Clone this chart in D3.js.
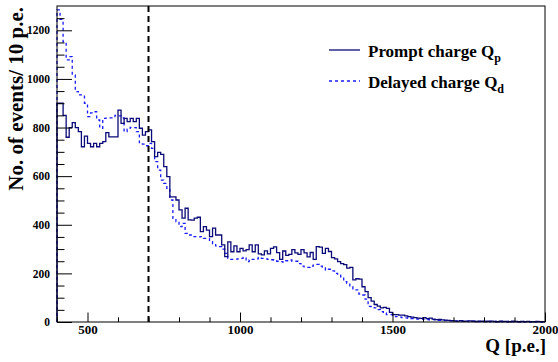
<!DOCTYPE html>
<html>
<head>
<meta charset="utf-8">
<script src="https://cdn.jsdelivr.net/npm/d3@7"></script>
<style>
  body { margin: 0; background: #fff; }
  text { font-family: "Liberation Serif", "Times New Roman", serif; font-weight: bold; }
</style>
</head>
<body>
<div id="chart"></div>
<script>
// histogram bins: 10 p.e. wide, starting at 400 p.e.
var binStart = 400, binWidth = 10;

// Prompt charge Q_p, counts per bin
var prompt = [
  900, 900, 850, 760, 800, 820, 800, 783, 721, 765,
  735, 721, 735, 721, 735, 742, 779, 762, 762, 762,
  872, 817, 838, 824, 838, 824, 838, 797, 769, 783,
  790, 742, 680, 698, 690, 639, 598, 515, 515, 502,
  461, 427, 468, 420, 419, 427, 431, 372, 392, 378,
  351, 386, 358, 358, 317, 269, 330, 289, 313, 289,
  303, 293, 298, 317, 289, 317, 280, 276, 293, 280,
  303, 309, 285, 258, 292, 274, 278, 298, 284, 278,
  298, 284, 268, 286, 258, 310, 308, 282, 303, 290,
  265, 260, 248, 240, 236, 222, 225, 173, 178, 176,
  145, 125, 100, 86, 72, 65, 58, 60, 56, 40,
  30, 30, 28, 28, 25, 22, 20, 18, 16, 15,
  18, 14, 16, 12, 10, 11, 9, 8, 7, 6,
  5, 4, 6, 3, 4, 5, 3, 2, 4, 3,
  2, 3, 4, 2, 1, 3, 2, 2, 1, 3,
  2, 1, 2, 1, 2, 1, 1, 2, 1, 1
];

// Delayed charge Q_d, counts per bin
var delayed = [
  1284, 1245, 1153, 1078, 1092, 1016, 948, 934, 934, 900,
  845, 860, 865, 831, 797, 838, 839, 840, 845, 850,
  848, 840, 783, 793, 801, 800, 783, 738, 732, 725,
  735, 714, 660, 625, 584, 570, 550, 502, 426, 413,
  392, 406, 365, 358, 351, 351, 350, 351, 344, 344,
  331, 321, 313, 310, 300, 282, 262, 258, 258, 260,
  262, 266, 248, 255, 258, 260, 266, 262, 260, 258,
  256, 254, 250, 248, 246, 252, 255, 250, 250, 240,
  230, 227, 225, 230, 234, 237, 230, 225, 214, 217,
  210, 200, 193, 186, 166, 159, 145, 132, 132, 115,
  111, 94, 64, 62, 58, 51, 43, 37, 30, 30,
  26, 22, 20, 18, 17, 15, 14, 13, 12, 11,
  12, 10, 9, 10, 8, 7, 7, 6, 5, 5,
  4, 3, 4, 3, 3, 2, 3, 2, 2, 3,
  2, 1, 2, 2, 1, 2, 1, 1, 2, 1,
  1, 1, 2, 1, 1, 0, 1, 1, 0, 1
];

var xMajor = [500, 1000, 1500, 2000];
var xMinor = [400, 600, 700, 800, 900, 1100, 1200, 1300, 1400, 1600, 1700, 1800, 1900];
var yMajor = [0, 200, 400, 600, 800, 1000, 1200];
var yMinor = [50, 100, 150, 250, 300, 350, 450, 500, 550, 650, 700, 750, 850, 900, 950, 1050, 1100, 1150, 1250];
var cutValue = 700;

const W = 558, H = 362;
const margin = { top: 6, right: 13, bottom: 40, left: 57 };

var svg = d3.select("#chart").append("svg")
  .attr("width", W).attr("height", H);

const x = d3.scaleLinear().domain([400, 2000]).range([margin.left, W - margin.right]);
const y = d3.scaleLinear().domain([0, 1300]).range([H - margin.bottom, margin.top]);

// step outline like a ROOT histogram
function stepPath(vals) {
  var pts = [[x(binStart), y(0)]];
  vals.forEach(function (v, i) {
    var lo = binStart + i * binWidth;
    pts.push([x(lo), y(v)]);
    pts.push([x(lo + binWidth), y(v)]);
  });
  pts.push([x(binStart + vals.length * binWidth), y(0)]);
  return d3.line()(pts);
}

var plot = svg.append("g");
plot.append("path")
  .attr("d", stepPath(delayed))
  .attr("fill", "none")
  .attr("stroke", "#1a1aff")
  .attr("stroke-width", 1.3)
  .attr("stroke-dasharray", "3,3");
plot.append("path")
  .attr("d", stepPath(prompt))
  .attr("fill", "none")
  .attr("stroke", "#0a0a78")
  .attr("stroke-width", 1.3);

// cut line at 700 p.e.
svg.append("line")
  .attr("x1", x(cutValue)).attr("x2", x(cutValue))
  .attr("y1", y(1300)).attr("y2", y(0))
  .attr("stroke", "#000")
  .attr("stroke-width", 2)
  .attr("stroke-dasharray", "6,4");

// axes, ticks inward
var xAx = svg.append("g").attr("transform", `translate(0,${y(0)})`);
xAx.call(d3.axisBottom(x).tickValues(xMajor).tickSize(-9.5).tickPadding(3).tickFormat(d3.format("d")));
xAx.call(g => g.select(".domain").remove());
xAx.selectAll("text").attr("font-size", 13).attr("font-family", "Liberation Serif").attr("font-weight", "bold");
svg.append("g").attr("transform", `translate(0,${y(0)})`)
  .call(d3.axisBottom(x).tickValues(xMinor).tickSize(-4.7).tickFormat(""))
  .call(g => g.select(".domain").remove());

var yAx = svg.append("g").attr("transform", `translate(${x(400)},0)`);
yAx.call(d3.axisLeft(y).tickValues(yMajor).tickSize(-15).tickPadding(7).tickFormat(d3.format("d")));
yAx.call(g => g.select(".domain").remove());
yAx.selectAll("text").attr("font-size", 11.5).attr("font-family", "Liberation Serif").attr("font-weight", "bold");
svg.append("g").attr("transform", `translate(${x(400)},0)`)
  .call(d3.axisLeft(y).tickValues(yMinor).tickSize(-7.5).tickFormat(""))
  .call(g => g.select(".domain").remove());

svg.selectAll(".tick line").attr("stroke", "#000").attr("stroke-width", 1);

// frame
svg.append("rect")
  .attr("x", x(400)).attr("y", y(1300))
  .attr("width", x(2000) - x(400)).attr("height", y(0) - y(1300))
  .attr("fill", "none").attr("stroke", "#000").attr("stroke-width", 1);

// axis titles
svg.append("text")
  .attr("x", x(2000) + 1).attr("y", 352)
  .attr("text-anchor", "end")
  .attr("font-size", 19)
  .text("Q [p.e.]");

svg.append("text")
  .attr("transform", "translate(23,7) rotate(-90)")
  .attr("text-anchor", "end")
  .attr("font-size", 21)
  .text("No. of events/ 10 p.e.");

// legend
var legend = [
  { name: "Prompt charge Q", sub: "p", color: "#0a0a78", dash: null, y: 50 },
  { name: "Delayed charge Q", sub: "d", color: "#1a1aff", dash: "3,3", y: 81 }
];
var lg = svg.selectAll(".leg").data(legend).join("g").attr("class", "leg");
lg.append("line")
  .attr("x1", 329).attr("x2", 360)
  .attr("y1", d => d.y).attr("y2", d => d.y)
  .attr("stroke", d => d.color)
  .attr("stroke-width", 1.3)
  .attr("stroke-dasharray", d => d.dash);
var lt = lg.append("text")
  .attr("x", 368).attr("y", d => d.y + 6.5)
  .attr("font-size", 17);
lt.append("tspan").text(d => d.name);
lt.append("tspan").attr("dy", 5).attr("font-size", 12).text(d => d.sub);
</script>
</body>
</html>
